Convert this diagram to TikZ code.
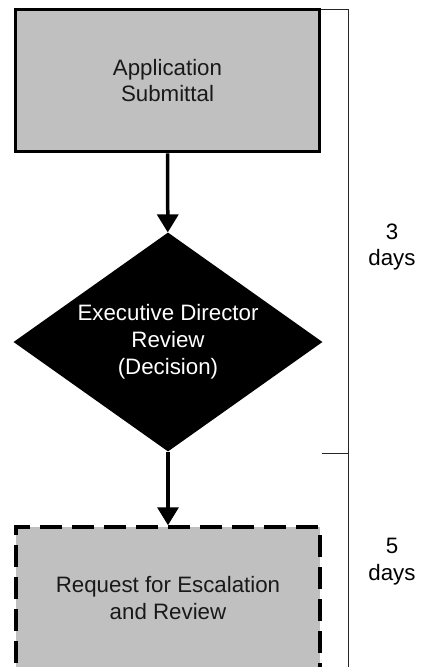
\documentclass[tikz,border=0pt]{standalone}
\usepackage{fontspec}
\setmainfont{Liberation Sans}
\usepackage{tikz}
\usetikzlibrary{shapes.geometric,arrows.meta}

\tikzset{
  stepbox/.style={draw=black, fill=boxgray, line width=3.5pt, minimum width=304pt,
    minimum height=142pt, inner sep=0pt, align=center, text=black!90,
    font=\fontsize{22.3}{26.8}\selectfont},
  decision/.style={diamond, aspect=1.41, fill=black, minimum width=309pt, minimum height=219pt,
    inner sep=0pt, align=center, text=white, font=\fontsize{22.3}{26.8}\selectfont},
  flow/.style={line width=3.5pt, -{Triangle[width=21pt,length=18pt]}},
  bracket/.style={line width=1pt, black!85},
  daylabel/.style={align=center, font=\fontsize{22.3}{26.8}\selectfont}
}
\definecolor{boxgray}{HTML}{C0C0C0}

\begin{document}
\begin{tikzpicture}[x=1pt,y=-1pt]
\useasboundingbox (0,0) rectangle (425,667);
\node[stepbox] (submittal) at (167.5,80.5) {Application\\Submittal};
\node[decision] (review) at (168,342) {Executive Director\\Review\\(Decision)};
\node[stepbox, dash pattern=on 22pt off 10pt] (escalation) at (168,598) {Request for Escalation\\and Review};
\draw[flow] (submittal) -- (review);
\draw[flow] (review) -- (escalation);
\coordinate (brtop) at (348,9);
\coordinate (brmid) at (348,453);
\coordinate (brend) at (348,667);
\draw[bracket] (321,9) -- (brtop) -- (brend);
\draw[bracket] (322,453) -- (brmid);
\node[daylabel] (three) at (392,247) {3\\days};
\node[daylabel] (five) at (392,562) {5\\days};
\end{tikzpicture}
\end{document}
